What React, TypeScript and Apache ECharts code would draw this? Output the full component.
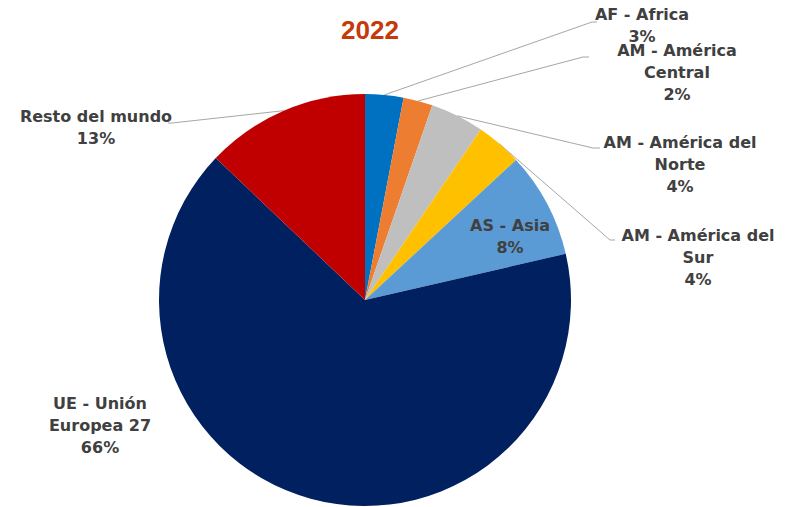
import React, { useEffect, useRef } from "react";
import * as echarts from "echarts";

const title = "2022";
const categories = [
  "AF - Africa",
  "AM - América\nCentral",
  "AM - América del\nNorte",
  "AM - América del\nSur",
  "AS - Asia",
  "UE - Unión\nEuropea 27",
  "Resto del mundo",
];
const values = [3.0, 2.3, 4.2, 3.6, 8.3, 65.7, 12.9];
const colors = ["#0070C0", "#ED7D31", "#BFBFBF", "#FFC000", "#5B9BD5", "#002060", "#C00000"];
const showLine = [true, true, true, true, false, false, true];

// label layout: [centerX, topY, lineBendX, lineBendY, lineEndX, lineEndY]
const labelPlaces: number[][] = [
  [642, 3, 592, 22, 597, 22],
  [677, 39, 583, 57, 589, 57],
  [680, 131, 593, 148, 600, 148],
  [698, 224, 610, 240, 615, 240],
  [510, 214, 0, 0, 0, 0],
  [100, 392, 0, 0, 0, 0],
  [96, 105, 172, 123, 168, 123],
];

export default function App() {
  const ref = useRef<HTMLDivElement>(null);
  useEffect(() => {
    if (!ref.current) return;
    const chart = echarts.init(ref.current, undefined, { renderer: "svg" });
    chart.setOption({
      animation: false,
      backgroundColor: "#ffffff",
      title: {
        text: title,
        left: 365,
        top: 12,
        textAlign: "center",
        textStyle: {
          fontFamily: "Liberation Sans, Arial, sans-serif",
          fontWeight: "bold",
          fontSize: 26,
          color: "#C53A0A",
        },
      },
      series: [
        {
          type: "pie",
          center: [365, 300],
          radius: 206,
          startAngle: 90,
          clockwise: true,
          avoidLabelOverlap: false,
          data: categories.map((name, i) => ({
            name,
            value: values[i],
            itemStyle: { color: colors[i] },
            labelLine: { show: showLine[i] },
          })),
          label: {
            show: true,
            position: "outside",
            formatter: (p: any) => `${p.name}\n${Math.round(p.percent)}%`,
            fontFamily: "DejaVu Sans, sans-serif",
            fontWeight: "bold",
            fontSize: 16,
            lineHeight: 22,
            color: "#404040",
            align: "center",
          },
          labelLine: {
            show: true,
            lineStyle: { color: "#A6A6A6", width: 1 },
          },
          labelLayout: (params: any) => {
            const pl = labelPlaces[params.dataIndex];
            const res: any = {
              x: pl[0],
              y: pl[1],
              align: "center",
              verticalAlign: "top",
            };
            if (showLine[params.dataIndex] && params.labelLinePoints) {
              const p0 = params.labelLinePoints[0];
              res.labelLinePoints = [
                [p0[0], p0[1]],
                [pl[2], pl[3]],
                [pl[4], pl[5]],
              ];
            }
            return res;
          },
        },
      ],
    });
    return () => chart.dispose();
  }, []);
  return (
    <div
      ref={ref}
      style={{ position: "fixed", left: 0, top: 0, width: 787, height: 507 }}
    />
  );
}
